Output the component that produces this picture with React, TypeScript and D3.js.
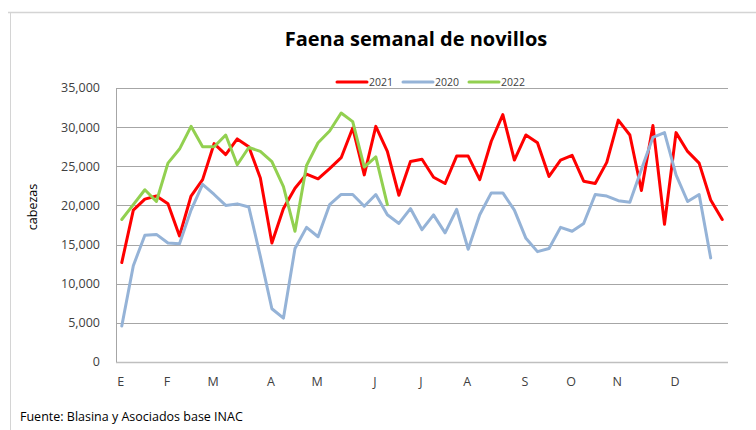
import { useEffect, useRef } from 'react'
import * as d3 from 'd3'

const weeks = d3.range(53)

const monthLabels = ['E', 'F', 'M', 'A', 'M', 'J', 'J', 'A', 'S', 'O', 'N', 'D']
const monthWeeks = [0, 4, 8, 13, 17, 22, 26, 30, 35, 39, 43, 48]

const yTicks = [0, 5000, 10000, 15000, 20000, 25000, 30000, 35000]

const faena2021 = [
  12700, 19400, 20800, 21200, 20200, 16100, 21200, 23300, 27900, 26500,
  28500, 27500, 23500, 15200, 19600, 22200, 24000, 23400, 24700, 26100,
  29900, 23900, 30100, 26900, 21300, 25600, 25900, 23600, 22800, 26300,
  26300, 23300, 28200, 31600, 25800, 29000, 28000, 23700, 25800, 26400,
  23100, 22800, 25500, 30900, 29000, 21900, 30200, 17600, 29300, 26900,
  25400, 20700, 18200,
]

const faena2020 = [
  4600, 12300, 16200, 16300, 15200, 15100, 19400, 22700, 21400, 20000,
  20200, 19800, 13500, 6800, 5600, 14500, 17200, 16000, 20100, 21400,
  21400, 19900, 21400, 18800, 17700, 19600, 16900, 18800, 16500, 19500,
  14400, 18800, 21600, 21600, 19400, 15800, 14100, 14500, 17200, 16700,
  17700, 21400, 21200, 20600, 20400, 24600, 28700, 29300, 23900, 20500,
  21400, 13300,
]

const faena2022 = [
  18200, 20100, 22000, 20500, 25400, 27200, 30100, 27500, 27500, 29000,
  25200, 27400, 26900, 25600, 22400, 16700, 25100, 28000, 29500, 31800,
  30700, 24900, 26200, 20100,
]

const series = [
  { name: '2021', values: faena2021, color: '#ff0000' },
  { name: '2020', values: faena2020, color: '#95b3d7' },
  { name: '2022', values: faena2022, color: '#92d050' },
]

const WIDTH = 756
const HEIGHT = 430
const FONT = '"Open Sans", Lato, sans-serif'

export default function App() {
  const svgRef = useRef<SVGSVGElement>(null)

  useEffect(() => {
    if (!svgRef.current) return
    const svg = d3.select(svgRef.current)
    svg.selectAll('*').remove()

    const plot = { left: 116, right: 728, top: 88, bottom: 362 }

    const x = d3.scaleBand<number>().domain(weeks).range([plot.left, plot.right]).padding(0)
    const y = d3.scaleLinear().domain([0, 35000]).range([plot.bottom, plot.top])
    const cx = (i: number) => x(i)! + x.bandwidth() / 2

    svg.append('rect').attr('width', WIDTH).attr('height', HEIGHT).attr('fill', '#fff')

    // chart frame
    svg.append('line')
      .attr('x1', 8).attr('x2', WIDTH).attr('y1', 12.5).attr('y2', 12.5)
      .attr('stroke', '#d4d4d4').attr('stroke-width', 1.5)
    svg.append('line')
      .attr('x1', 10.5).attr('x2', 10.5).attr('y1', 12).attr('y2', HEIGHT)
      .attr('stroke', '#d4d4d4').attr('stroke-width', 1)

    // grid
    svg.append('g')
      .selectAll('line')
      .data(yTicks)
      .join('line')
      .attr('x1', plot.left).attr('x2', plot.right)
      .attr('y1', d => Math.round(y(d)) + 0.5).attr('y2', d => Math.round(y(d)) + 0.5)
      .attr('stroke', d => (d === 0 ? '#bfbfbf' : '#a6a6a6'))
      .attr('stroke-width', d => (d === 0 ? 1.5 : 1))

    svg.append('line')
      .attr('x1', plot.left + 0.5).attr('x2', plot.left + 0.5)
      .attr('y1', plot.top).attr('y2', plot.bottom)
      .attr('stroke', '#a6a6a6')

    // y axis labels
    svg.append('g')
      .selectAll('text')
      .data(yTicks)
      .join('text')
      .attr('x', 100)
      .attr('y', d => y(d))
      .attr('dy', '0.35em')
      .attr('text-anchor', 'end')
      .attr('font-family', FONT)
      .attr('font-size', 12.5)
      .attr('fill', '#404040')
      .text(d => d3.format(',')(d))

    // x axis month labels
    svg.append('g')
      .selectAll('text')
      .data(monthWeeks)
      .join('text')
      .attr('x', d => cx(d) - 1)
      .attr('y', 386)
      .attr('text-anchor', 'middle')
      .attr('font-family', FONT)
      .attr('font-size', 12.5)
      .attr('fill', '#404040')
      .text((_, i) => monthLabels[i])

    // lines
    const line = d3.line<number>()
      .x((_, i) => cx(i))
      .y(d => y(d))

    series.forEach(s => {
      svg.append('path')
        .datum(s.values)
        .attr('d', line)
        .attr('fill', 'none')
        .attr('stroke', s.color)
        .attr('stroke-width', 3)
        .attr('stroke-linejoin', 'round')
        .attr('stroke-linecap', 'round')
    })

    // legend
    const legendX = [337, 403, 469]
    const lg = svg.append('g')
    series.forEach((s, i) => {
      lg.append('line')
        .attr('x1', legendX[i]).attr('x2', legendX[i] + 30)
        .attr('y1', 82).attr('y2', 82)
        .attr('stroke', s.color).attr('stroke-width', 3)
        .attr('stroke-linecap', 'round')
      lg.append('text')
        .attr('x', legendX[i] + 32)
        .attr('y', 82)
        .attr('dy', '0.35em')
        .attr('font-family', FONT)
        .attr('font-size', 10.5)
        .attr('fill', '#404040')
        .text(s.name)
    })

    // title
    svg.append('text')
      .attr('x', 416)
      .attr('y', 46)
      .attr('text-anchor', 'middle')
      .attr('font-family', FONT)
      .attr('font-weight', 'bold')
      .attr('font-size', 20)
      .attr('fill', '#000')
      .text('Faena semanal de novillos')

    // y axis title
    svg.append('text')
      .attr('transform', `translate(37,207) rotate(-90)`)
      .attr('text-anchor', 'middle')
      .attr('font-family', FONT)
      .attr('font-size', 12.5)
      .attr('fill', '#000')
      .text('cabezas')

    // source
    svg.append('text')
      .attr('x', 20)
      .attr('y', 421)
      .attr('font-family', FONT)
      .attr('font-size', 12.5)
      .attr('fill', '#000')
      .text('Fuente: Blasina y Asociados base INAC')
  }, [])

  return (
    <svg
      ref={svgRef}
      width={WIDTH}
      height={HEIGHT}
      style={{ position: 'absolute', left: 0, top: 0, display: 'block' }}
    />
  )
}
